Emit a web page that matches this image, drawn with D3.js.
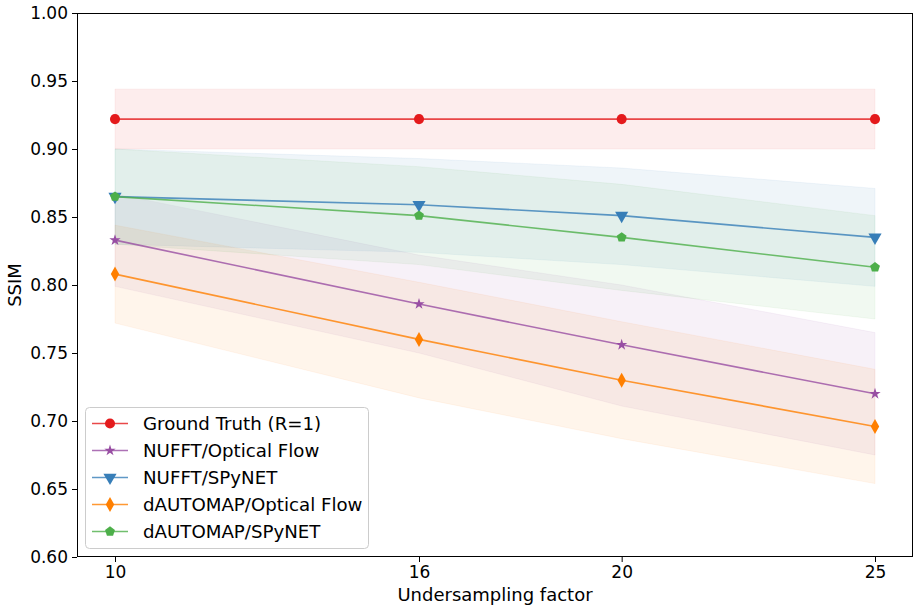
<!DOCTYPE html>
<html>
<head>
<meta charset="utf-8">
<script src="https://cdn.jsdelivr.net/npm/d3@7"></script>
<style>
  html, body { margin: 0; padding: 0; background: #fff; }
  svg { display: block; font-family: "DejaVu Sans", sans-serif; }
</style>
</head>
<body>
<svg id="chart" width="920" height="611"></svg>
<script>
// ---------- data ----------
const factors = [10, 16, 20, 25];
const xTickLabels = ["10", "16", "20", "25"];
const yTicks = [0.60, 0.65, 0.70, 0.75, 0.80, 0.85, 0.90, 0.95, 1.00];

const seriesNames = ["Ground Truth (R=1)", "NUFFT/Optical Flow", "NUFFT/SPyNET", "dAUTOMAP/Optical Flow", "dAUTOMAP/SPyNET"];
const seriesColors = ["#e41a1c", "#984ea3", "#377eb8", "#ff7f00", "#4daf4a"];
const seriesMarkers = ["circle", "star", "triangleDown", "thinDiamond", "pentagon"];

const gtMean   = [0.922, 0.922, 0.922, 0.922];
const gtLow    = [0.900, 0.900, 0.900, 0.900];
const gtHigh   = [0.944, 0.944, 0.944, 0.944];

const nufftOfMean = [0.833, 0.786, 0.756, 0.720];
const nufftOfLow  = [0.799, 0.750, 0.711, 0.675];
const nufftOfHigh = [0.867, 0.822, 0.800, 0.765];

const nufftSpMean = [0.865, 0.859, 0.851, 0.835];
const nufftSpLow  = [0.830, 0.824, 0.815, 0.799];
const nufftSpHigh = [0.900, 0.893, 0.886, 0.871];

const dautoOfMean = [0.808, 0.760, 0.730, 0.696];
const dautoOfLow  = [0.772, 0.717, 0.687, 0.654];
const dautoOfHigh = [0.844, 0.802, 0.773, 0.738];

const dautoSpMean = [0.865, 0.851, 0.835, 0.813];
const dautoSpLow  = [0.830, 0.815, 0.796, 0.775];
const dautoSpHigh = [0.900, 0.887, 0.874, 0.851];

const means = [gtMean, nufftOfMean, nufftSpMean, dautoOfMean, dautoSpMean];
const lows  = [gtLow, nufftOfLow, nufftSpLow, dautoOfLow, dautoSpLow];
const highs = [gtHigh, nufftOfHigh, nufftSpHigh, dautoOfHigh, dautoSpHigh];

const series = seriesNames.map((name, i) => ({
  name, color: seriesColors[i], marker: seriesMarkers[i],
  points: factors.map((f, j) => ({ x: f, y: means[i][j], lo: lows[i][j], hi: highs[i][j] }))
}));

// ---------- layout ----------
const svg = d3.select("#chart");
const margin = { left: 77, top: 13, right: 7, bottom: 54 };
const W = 920, H = 611;
const plotW = W - margin.left - margin.right;
const plotH = H - margin.top - margin.bottom;

const x = d3.scaleLinear().domain([9.25, 25.75]).range([margin.left, margin.left + plotW]);
const y = d3.scaleLinear().domain([0.6, 1.0]).range([margin.top + plotH, margin.top]);

// ---------- marker shapes ----------
function markerPath(type) {
  switch (type) {
    case "circle": return d3.symbol(d3.symbolCircle, 80)();
    case "star": return d3.symbol(d3.symbolStar, 40)();
    case "triangleDown": return d3.symbol(d3.symbolTriangle, 75)();
    case "thinDiamond": {
      const w = 4.2, h = 7.5;
      return `M0,${-h}L${w},0L0,${h}L${-w},0Z`;
    }
    case "pentagon": {
      const r = 5.2;
      const pts = d3.range(5).map(k => {
        const a = -Math.PI / 2 + k * 2 * Math.PI / 5;
        return [r * Math.cos(a), r * Math.sin(a)];
      });
      return "M" + pts.map(p => p.join(",")).join("L") + "Z";
    }
  }
}
function markerTransform(type, px, py) {
  return type === "triangleDown" ? `translate(${px},${py}) rotate(180)` : `translate(${px},${py})`;
}

// ---------- clip ----------
svg.append("defs").append("clipPath").attr("id", "clip")
  .append("rect").attr("x", margin.left).attr("y", margin.top).attr("width", plotW).attr("height", plotH);

const plot = svg.append("g").attr("clip-path", "url(#clip)");

// bands
const area = d3.area().x(d => x(d.x)).y0(d => y(d.lo)).y1(d => y(d.hi));
series.forEach(s => {
  plot.append("path")
    .attr("d", area(s.points))
    .attr("fill", s.color).attr("fill-opacity", 0.08)
    .attr("stroke", s.color).attr("stroke-opacity", 0.06).attr("stroke-width", 1);
});

// lines
const line = d3.line().x(d => x(d.x)).y(d => y(d.y));
series.forEach(s => {
  plot.append("path")
    .attr("d", line(s.points))
    .attr("fill", "none").attr("stroke", s.color).attr("stroke-opacity", 0.8)
    .attr("stroke-width", 1.6);
});

// markers
series.forEach(s => {
  plot.selectAll(null).data(s.points).enter().append("path")
    .attr("d", markerPath(s.marker))
    .attr("transform", d => markerTransform(s.marker, x(d.x), y(d.y)))
    .attr("fill", s.color);
});

// ---------- axes ----------
const xAxis = d3.axisBottom(x).tickValues(factors).tickFormat((d, i) => xTickLabels[i]).tickSize(5).tickPadding(4);
const yAxis = d3.axisLeft(y).tickValues(yTicks).tickFormat(d3.format(".2f")).tickSize(5).tickPadding(4);

const gx = svg.append("g").attr("transform", `translate(0,${margin.top + plotH})`).call(xAxis);
const gy = svg.append("g").attr("transform", `translate(${margin.left},0)`).call(yAxis);
[gx, gy].forEach(g => {
  g.select(".domain").remove();
  g.selectAll("line").attr("stroke", "#000").attr("stroke-width", 1);
  g.selectAll("text").attr("fill", "#000").style("font-size", "17px").style("font-family", "DejaVu Sans");
});

// frame
svg.append("rect")
  .attr("x", margin.left + 0.5).attr("y", margin.top + 0.5)
  .attr("width", plotW - 1).attr("height", plotH - 1)
  .attr("fill", "none").attr("stroke", "#000").attr("stroke-width", 1);

// axis labels
svg.append("text")
  .attr("x", margin.left + plotW / 2).attr("y", 601)
  .attr("text-anchor", "middle").style("font-size", "18px").attr("fill", "#000")
  .text("Undersampling factor");
svg.append("text")
  .attr("transform", `translate(21,${margin.top + plotH / 2}) rotate(-90)`)
  .attr("text-anchor", "middle").style("font-size", "18px").attr("fill", "#000")
  .text("SSIM");

// ---------- legend ----------
const legend = svg.append("g");
legend.append("rect")
  .attr("x", 85.5).attr("y", 407.5).attr("width", 283).attr("height", 141)
  .attr("rx", 4).attr("ry", 4)
  .attr("fill", "#fff").attr("fill-opacity", 0.8)
  .attr("stroke", "#cccccc").attr("stroke-width", 1);
series.forEach((s, i) => {
  const ly = 423.5 + i * 27;
  legend.append("line")
    .attr("x1", 92).attr("x2", 128).attr("y1", ly).attr("y2", ly)
    .attr("stroke", s.color).attr("stroke-opacity", 0.8).attr("stroke-width", 1.6);
  legend.append("path")
    .attr("d", markerPath(s.marker))
    .attr("transform", markerTransform(s.marker, 110, ly))
    .attr("fill", s.color);
  legend.append("text")
    .attr("x", 143).attr("y", ly).attr("dy", "0.35em")
    .style("font-size", "18.2px").attr("fill", "#000")
    .text(s.name);
});
</script>
</body>
</html>
